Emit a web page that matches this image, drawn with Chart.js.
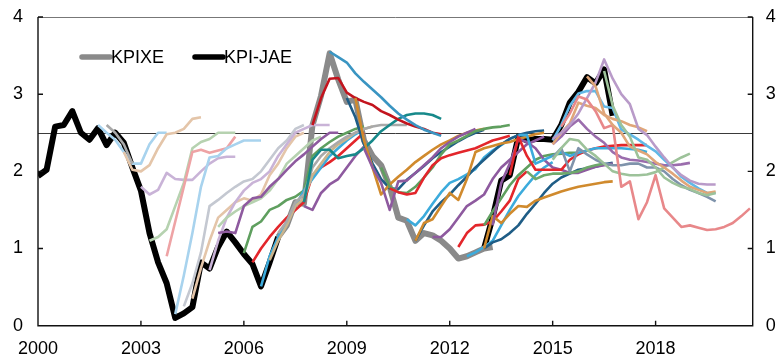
<!DOCTYPE html>
<html>
<head>
<meta charset="utf-8">
<script src="https://cdn.jsdelivr.net/npm/chart.js@4.4.1/dist/chart.umd.min.js"></script>
<style>
  html, body { margin: 0; padding: 0; background: #fff; }
  #wrap { width: 779px; height: 357px; }
</style>
</head>
<body>
<div id="wrap"><canvas id="c" width="779" height="357"></canvas></div>
<script>
// Axis ticks
const xTicks = [2000, 2003, 2006, 2009, 2012, 2015, 2018];
const yTicks = [0, 1, 2, 3, 4];
const targetLevel = 2.5;

// Outcomes, quarterly, four-quarter change in per cent
const kpiJaeEarlyStart = '2000Q1';
const kpiJaeEarly = [1.94, 2.02, 2.58, 2.6, 2.78, 2.5, 2.41, 2.56, 2.34, 2.5, 2.37, 2.05,
  1.75, 1.2, 0.82, 0.55, 0.1, 0.16, 0.24, 0.82, 0.74, 1.02, 1.22, 1.08, 0.93, 0.8, 0.51, 0.82, 1.15];
const kpixeStart = '2007Q1';
const kpixe = [1.15, 1.3, 1.6, 1.58, 2.6, 2.98, 3.53, 3.19, 2.9, 2.93, 2.4, 2.2, 2.08, 1.8,
  1.4, 1.36, 1.1, 1.2, 1.17, 1.1, 1.0, 0.87, 0.9, 0.95, 1.0, 1.02];
const kpiJaeLateStart = '2013Q1';
const kpiJaeLate = [1.0, 1.4, 1.88, 1.95, 2.45, 2.4, 2.42, 2.42, 2.41, 2.6, 2.89, 3.03, 3.22, 3.14, 3.32, 2.72];

// Projections, one array per report, first value at the quarter in the name
const fc2001Q4 = [2.6, 2.5, 2.41, 2.25, 2.1, 2.1, 2.35, 2.5, 2.5];
const fc2002Q1 = [2.6, 2.5, 2.35, 2.1];
const fc2002Q3 = [2.25, 2.02, 2.0, 2.08, 2.3, 2.48, 2.5, 2.55, 2.68, 2.7];
const fc2003Q1 = [1.8, 1.7, 1.76, 1.98, 1.9, 1.89, 1.89, 2.0, 2.1, 2.17, 2.19, 2.19];
const fc2003Q2 = [1.1, 1.15, 1.25, 1.55, 1.85, 2.3, 2.38, 2.42, 2.5, 2.5, 2.5];
const fc2003Q4 = [0.9, 1.35, 1.8, 2.25, 2.28, 2.24, 2.27, 2.3, 2.45];
const fc2004Q1 = [0.15, 0.65, 1.2, 1.8, 2.18, 2.2, 2.3, 2.35, 2.4, 2.4, 2.4];
const fc2004Q2 = [0.25, 0.55, 0.95, 1.55, 1.63, 1.72, 1.8, 1.87, 1.9, 2.0, 2.15, 2.3, 2.4, 2.55, 2.6];
const fc2004Q3 = [0.35, 0.75, 1.1, 1.4, 1.5, 1.6, 1.65, 1.62, 1.7, 1.95, 2.1, 2.3, 2.45, 2.5];
const fc2005Q1 = [0.72, 1.1, 1.4, 1.6, 1.75, 1.85, 1.9, 2.0, 2.2, 2.35, 2.5, 2.55, 2.6, 2.6, 2.6];
const fc2005Q2a = [1.28, 1.4, 1.48, 1.55, 1.6, 1.65, 1.75, 1.9, 2.1, 2.2, 2.3, 2.4, 2.45];
const fc2005Q2b = [1.2, 1.22, 1.2, 1.55, 1.65, 1.67, 1.8, 1.9, 2.02, 2.13, 2.22, 2.32, 2.42, 2.5, 2.5];
const fc2006Q1 = [0.94, 1.28, 1.35, 1.5, 1.55, 1.63, 1.67, 1.75, 2.2, 2.3, 2.38, 2.45, 2.5, 2.55, 2.58];
const fc2006Q2 = [0.82, 1.0, 1.15, 1.28, 1.4, 1.5, 1.6, 1.95, 2.05, 2.12, 2.2, 2.3, 2.4, 2.5];
const fc2006Q3 = [0.51, 0.9, 1.15, 1.35, 1.55, 1.75, 1.9, 2.05, 2.2, 2.3, 2.4, 2.48, 2.55];
const fc2006Q4 = [0.85, 1.1, 1.3, 1.55, 1.65, 1.95, 2.1, 2.25, 2.35, 2.42, 2.5, 2.55, 2.58];
const fc2007Q1 = [1.2, 1.35, 1.6, 1.7, 2.05, 2.2, 2.3, 2.38, 2.45, 2.5, 2.55, 2.58, 2.6, 2.6, 2.6, 2.6];
const fc2007Q4a = [1.55, 1.5, 1.72, 1.83, 1.9, 2.05, 2.2, 2.32];
const fc2007Q4b = [1.6, 2.15, 2.28, 2.28, 2.17, 2.2, 2.22, 2.3, 2.4, 2.52, 2.6, 2.68, 2.73, 2.75, 2.75, 2.73, 2.68];
const fc2008Q1 = [2.6, 2.95, 3.2, 3.21, 3.02, 2.95, 2.9, 2.86, 2.78, 2.73, 2.67, 2.62, 2.58, 2.55, 2.5, 2.48];
const fc2008Q3 = [3.55, 3.48, 3.41, 3.27, 3.16, 3.06, 2.96, 2.85, 2.75, 2.67, 2.6, 2.54, 2.5, 2.46];
const fc2009Q1 = [2.95, 2.7, 2.35, 2.1, 1.9, 1.78, 1.77, 1.89, 1.98, 2.07, 2.17, 2.25, 2.32, 2.39, 2.45, 2.5, 2.54];
const fc2009Q2 = [2.95, 2.4, 2.05, 1.7, 1.83, 1.93, 2.02, 2.12, 2.2, 2.28, 2.35, 2.4, 2.46, 2.5, 2.53, 2.55];
const fc2009Q3 = [2.3, 2.05, 1.85, 1.5, 1.87, 1.88, 1.98, 2.08, 2.18, 2.3, 2.38, 2.45, 2.5, 2.55];
const fc2010Q1 = [2.05, 1.8, 1.73, 1.72, 1.8, 1.92, 2.05, 2.22, 2.35, 2.4, 2.46, 2.52, 2.55, 2.57, 2.58, 2.6];
const fc2010Q2 = [1.78, 1.73, 1.7, 1.72, 1.92, 2.08, 2.17, 2.21, 2.24, 2.27, 2.3, 2.35, 2.4, 2.43, 2.46];
const fc2010Q4 = [1.38, 1.3, 1.42, 1.58, 1.73, 1.85, 1.9, 1.96, 2.03, 2.18, 2.27, 2.34, 2.42, 2.47];
const fc2011Q1a = [1.1, 1.3, 1.48, 1.6, 1.7, 1.82, 1.93, 2.05, 2.15, 2.25, 2.35, 2.42, 2.47, 2.5, 2.52, 2.53];
const fc2011Q1b = [1.1, 1.33, 1.38, 1.55, 1.72, 1.63, 1.9, 2.25, 2.3, 2.33, 2.36, 2.38, 2.42, 2.45, 2.48, 2.5];
const fc2011Q3 = [1.15, 1.15, 1.25, 1.4, 1.55, 1.62, 1.7, 1.9, 2.05, 2.15, 2.25, 2.35, 2.4, 2.45];
const fc2012Q2 = [1.02, 1.2, 1.3, 1.31, 1.35, 1.48, 1.62, 1.9, 2.0];
const fc2012Q3 = [0.9, 0.95, 1.02, 1.1, 1.3, 1.5, 1.68, 1.82, 1.95, 2.05, 2.12];
const fc2013Q1a = [1.0, 1.08, 1.12, 1.2, 1.3, 1.45, 1.58, 1.72, 1.84, 1.92, 1.97, 2.02, 2.04, 2.06, 2.09, 2.11];
const fc2013Q1b = [1.0, 1.42, 1.33, 1.45, 1.55, 1.54, 1.62, 1.66, 1.7, 1.74, 1.77, 1.8, 1.82, 1.84, 1.86, 1.87];
const fc2013Q1c = [1.3, 1.48, 1.65, 1.82, 1.95, 2.05, 2.15, 2.2, 2.22, 2.23, 2.24, 2.24];
const fc2013Q2 = [1.3, 1.85, 2.1, 2.42, 2.38, 2.3, 2.15, 2.05, 2.02, 1.98, 1.98, 2.02, 2.06, 2.08, 2.1];
const fc2013Q4 = [1.95, 2.45, 2.2, 2.02, 2.02, 2.02, 2.02, 2.15, 2.22, 2.27, 2.3, 2.32, 2.33, 2.34, 2.34, 2.34, 2.34];
const fc2014Q1 = [2.47, 2.47, 2.1, 2.15, 2.2, 2.25, 2.2, 2.24, 2.27, 2.3, 2.3, 2.3, 2.3, 2.29, 2.28, 2.25];
const fc2014Q2 = [2.0, 1.9, 1.95, 1.97, 1.97, 1.98, 2.0, 2.05, 2.08, 2.1];
const fc2015Q1a = [2.18, 2.3, 2.0, 2.3, 2.22, 2.15, 2.1, 2.08, 2.08, 2.1, 2.1, 2.05, 2.05, 2.0, 1.9, 1.82, 1.76, 1.72, 1.67, 1.61];
const fc2015Q1b = [2.15, 2.3, 2.42, 2.4, 2.28, 2.2, 2.1, 2.0, 1.97, 1.95, 1.95, 1.96, 1.99, 2.05, 2.12, 2.18, 2.23];
const fc2015Q1c = [2.35, 2.45, 2.58, 2.67, 2.55, 2.45, 2.37, 2.25, 2.18, 2.15, 2.14, 2.12, 2.1, 2.08, 2.08, 2.09, 2.11];
const fc2015Q1d = [2.4, 2.6, 2.85, 3.01, 3.04, 3.04, 2.84, 2.82, 2.54, 2.48, 2.41, 2.33, 2.26, 2.15, 2.05, 1.93, 1.85, 1.78, 1.72, 1.72];
const fc2015Q1e = [2.35, 2.5, 2.62, 2.89, 2.85, 2.82, 2.73, 2.68, 2.65, 2.6, 2.57, 2.52];
const fc2015Q1f = [2.42, 2.5, 2.6, 2.75, 2.95, 3.15, 3.45, 3.2, 3.0, 2.87, 2.55, 2.47, 2.32, 2.18, 2.05, 1.95, 1.88, 1.84, 1.83, 1.83];
const fc2015Q2 = [2.58, 2.75, 2.97, 2.93, 2.78, 2.56, 2.6, 1.8, 1.87, 1.38, 1.6, 1.95, 1.52, 1.4, 1.28, 1.3,
  1.27, 1.24, 1.25, 1.28, 1.33, 1.42, 1.52];
const fc2016Q1 = [3.23, 3.1, 2.75, 2.6, 2.5, 2.32, 2.27, 2.22, 2.12, 2.05, 1.97, 1.88, 1.8, 1.76, 1.72, 1.74];
const fc2016Q3 = [3.3, 2.85, 2.6, 2.45, 2.18, 2.15, 2.05, 1.92, 1.85, 1.8, 1.77, 1.72, 1.69, 1.72];

// Report start quarter, values and line colour
const forecasts = [
  ['2001Q4', fc2001Q4, '#a8d3ee'],
  ['2002Q1', fc2002Q1, '#a9a9a9'],
  ['2002Q3', fc2002Q3, '#e4c5a9'],
  ['2003Q1', fc2003Q1, '#c9b3d7'],
  ['2003Q2', fc2003Q2, '#b6d2b0'],
  ['2003Q4', fc2003Q4, '#eea3a5'],
  ['2004Q1', fc2004Q1, '#a8d3ee'],
  ['2004Q2', fc2004Q2, '#c4c8d1'],
  ['2004Q3', fc2004Q3, '#e4c5a9'],
  ['2005Q1', fc2005Q1, '#c9b3d7'],
  ['2005Q2', fc2005Q2a, '#b6d2b0'],
  ['2005Q2', fc2005Q2b, '#8e5a9f'],
  ['2006Q1', fc2006Q1, '#5f9f5f'],
  ['2006Q2', fc2006Q2, '#e3262b'],
  ['2006Q3', fc2006Q3, '#3cabdc'],
  ['2006Q4', fc2006Q4, '#c9b48c'],
  ['2007Q1', fc2007Q1, '#a9a9a9'],
  ['2007Q4', fc2007Q4a, '#8e5a9f'],
  ['2007Q4', fc2007Q4b, '#17898a'],
  ['2008Q1', fc2008Q1, '#c3141e'],
  ['2008Q3', fc2008Q3, '#3a95c2'],
  ['2009Q1', fc2009Q1, '#1f5d86'],
  ['2009Q2', fc2009Q2, '#d08a2d'],
  ['2009Q3', fc2009Q3, '#8e5a9f'],
  ['2010Q1', fc2010Q1, '#5f9f5f'],
  ['2010Q2', fc2010Q2, '#e3262b'],
  ['2010Q4', fc2010Q4, '#3cabdc'],
  ['2011Q1', fc2011Q1a, '#1f5d86'],
  ['2011Q1', fc2011Q1b, '#d08a2d'],
  ['2011Q3', fc2011Q3, '#8e5a9f'],
  ['2012Q2', fc2012Q2, '#e3262b'],
  ['2012Q3', fc2012Q3, '#3cabdc'],
  ['2013Q1', fc2013Q1a, '#1f5d86'],
  ['2013Q1', fc2013Q1b, '#d08a2d'],
  ['2013Q1', fc2013Q1c, '#5f9f5f'],
  ['2013Q2', fc2013Q2, '#8e5a9f'],
  ['2013Q4', fc2013Q4, '#e3262b'],
  ['2014Q1', fc2014Q1, '#3cabdc'],
  ['2014Q2', fc2014Q2, '#6fa86b'],
  ['2015Q1', fc2015Q1a, '#7f93ab'],
  ['2015Q1', fc2015Q1b, '#9dc29a'],
  ['2015Q1', fc2015Q1c, '#9b6dad'],
  ['2015Q1', fc2015Q1d, '#62b8e6'],
  ['2015Q1', fc2015Q1e, '#e0a679'],
  ['2015Q1', fc2015Q1f, '#b99bc9'],
  ['2015Q2', fc2015Q2, '#e8888a'],
  ['2016Q1', fc2016Q1, '#e0a679'],
  ['2016Q3', fc2016Q3, '#9dc29a']
];

const quarterToYear = s => { const [y, q] = s.split('Q'); return +y + (q - 1) / 4; };
const toPoints = (start, vals) => {
  const x0 = quarterToYear(start);
  return vals.map((v, i) => ({ x: x0 + i / 4, y: v }));
};

const FONT = "'Liberation Sans', Arial, sans-serif";
const datasets = [];
forecasts.forEach(([start, vals, color], i) => {
  datasets.push({
    label: 'Projection ' + start,
    data: toPoints(start, vals),
    borderColor: color,
    borderWidth: 2.6,
    pointRadius: 0,
    borderJoinStyle: 'round',
    fill: false,
    order: 200 - i
  });
});
const actual = (label, start, vals, color) => ({
  label, data: toPoints(start, vals), borderColor: color, borderWidth: 6,
  pointRadius: 0, borderJoinStyle: 'round', borderCapStyle: 'butt', fill: false, order: 1000
});
datasets.push(actual('KPI-JAE', kpiJaeEarlyStart, kpiJaeEarly, '#000000'));
datasets.push(actual('KPIXE', kpixeStart, kpixe, '#8a8a8a'));
datasets.push(actual('KPI-JAE', kpiJaeLateStart, kpiJaeLate, '#000000'));

// Legend entries drawn inside the plot
const legendItems = [
  { text: 'KPIXE', color: '#8a8a8a', x0: 82, x1: 110 },
  { text: 'KPI-JAE', color: '#000000', x0: 195, x1: 223 }
];

const framePlugin = {
  id: 'frame',
  beforeDatasetsDraw(chart) {
    const { ctx, chartArea: a, scales: { y } } = chart;
    const yy = Math.round(y.getPixelForValue(targetLevel)) + 0.5;
    ctx.save();
    ctx.strokeStyle = '#3a3a3a';
    ctx.lineWidth = 1;
    ctx.beginPath(); ctx.moveTo(a.left, yy); ctx.lineTo(a.right, yy); ctx.stroke();
    ctx.restore();
  },
  afterDatasetsDraw(chart) {
    const { ctx, chartArea: a, scales: { x, y } } = chart;
    ctx.save();
    // top edge
    ctx.strokeStyle = '#777';
    ctx.lineWidth = 1;
    ctx.beginPath(); ctx.moveTo(a.left, a.top + 0.5); ctx.lineTo(a.right, a.top + 0.5); ctx.stroke();
    // axes
    ctx.strokeStyle = '#111';
    ctx.lineWidth = 1.4;
    ctx.beginPath();
    ctx.moveTo(a.left, a.top); ctx.lineTo(a.left, a.bottom);
    ctx.moveTo(a.right, a.top); ctx.lineTo(a.right, a.bottom);
    ctx.moveTo(a.left - 0.7, a.bottom); ctx.lineTo(a.right + 0.7, a.bottom);
    // inward tick marks
    yTicks.forEach(v => {
      const py = y.getPixelForValue(v);
      ctx.moveTo(a.left, py); ctx.lineTo(a.left + 5, py);
      ctx.moveTo(a.right, py); ctx.lineTo(a.right - 5, py);
    });
    xTicks.forEach(v => {
      const px = x.getPixelForValue(v);
      ctx.moveTo(px, a.bottom); ctx.lineTo(px, a.bottom - 5);
    });
    ctx.stroke();
    // legend
    ctx.font = '18px ' + FONT;
    ctx.textBaseline = 'middle';
    ctx.textAlign = 'left';
    legendItems.forEach(it => {
      ctx.strokeStyle = it.color;
      ctx.lineWidth = 5.5;
      ctx.lineCap = 'round';
      ctx.beginPath(); ctx.moveTo(it.x0, 57); ctx.lineTo(it.x1, 57); ctx.stroke();
      ctx.fillStyle = '#000';
      ctx.fillText(it.text, it.x1 + 1, 58);
    });
    ctx.restore();
  }
};

const tickFont = { family: FONT, size: 18 };
const yAxis = (position, width, pad) => ({
  type: 'linear', position, min: 0, max: 4,
  afterBuildTicks: s => { s.ticks = yTicks.map(v => ({ value: v })); },
  // fixed gutter width; no extra room reserved above/below for edge labels
  afterFit: s => { s.width = width; s.paddingTop = 0; s.paddingBottom = 0; },
  grid: { display: false, drawTicks: false },
  border: { display: false },
  ticks: { font: tickFont, color: '#000', padding: pad }
});

new Chart(document.getElementById('c'), {
  type: 'line',
  data: { datasets },
  options: {
    responsive: false,
    animation: false,
    devicePixelRatio: 1,
    parsing: false,
    layout: { padding: { top: 17, left: 0, right: 0, bottom: 0 } },
    plugins: { legend: { display: false }, tooltip: { enabled: false } },
    scales: {
      x: {
        type: 'linear', min: 2000, max: 2020.83,
        afterBuildTicks: s => { s.ticks = xTicks.map(v => ({ value: v })); },
        afterFit: s => { s.height = 31.3; s.paddingLeft = 0; s.paddingRight = 0; },
        grid: { display: false, drawTicks: false },
        border: { display: false },
        ticks: { font: tickFont, color: '#000', padding: 13, maxRotation: 0, autoSkip: false,
          callback: v => String(v) }
      },
      y: yAxis('left', 38, 15),
      y2: yAxis('right', 26.3, 13)
    }
  },
  plugins: [framePlugin]
});
</script>
</body>
</html>
